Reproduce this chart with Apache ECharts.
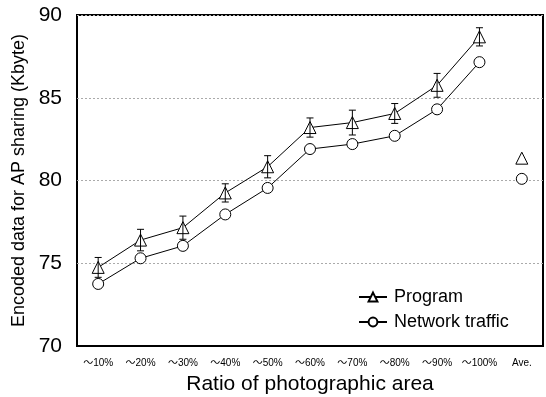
<!DOCTYPE html>
<html>
<head>
<meta charset="utf-8">
<script src="https://cdn.jsdelivr.net/npm/echarts@6/dist/echarts.min.js"></script>
<style>html,body{margin:0;padding:0;background:#fff}#c{width:546px;height:397px}</style>
</head>
<body>
<div id="c"></div>
<script>
var categories = ['～10%','～20%','～30%','～40%','～50%','～60%','～70%','～80%','～90%','～100%','Ave.'];
var programValues = [74.75, 76.4, 77.15, 79.25, 80.83, 83.2, 83.5, 84.05, 85.75, 88.68];
var programErr = [0.6, 0.65, 0.7, 0.55, 0.67, 0.58, 0.75, 0.6, 0.72, 0.55];
var networkValues = [73.75, 75.3, 76.05, 77.95, 79.55, 81.9, 82.2, 82.7, 84.3, 87.15];
var programAve = 81.35;
var networkAve = 80.1;
var yTicks = [70, 75, 80, 85, 90];

var FONT = '"Liberation Sans", Arial, "Noto Sans CJK JP", sans-serif';
var chart = echarts.init(document.getElementById('c'), null, {renderer: 'canvas'});

var errData = programValues.map(function (v, i) { return [i, v - programErr[i], v + programErr[i]]; });
var markerStyle = {color: '#fff', borderColor: '#000', borderWidth: 1, opacity: 1};

chart.setOption({
  animation: false,
  grid: {left: 77, right: 3, top: 15, bottom: 51, show: true, borderColor: '#000', borderWidth: 2,
         backgroundColor: 'transparent', containLabel: false, outerBoundsMode: 'none'},
  legend: {
    data: ['Program', 'Network traffic'],
    orient: 'vertical', left: 353, top: 283,
    itemWidth: 28, itemHeight: 11, itemGap: 7,
    textStyle: {fontSize: 18, color: '#000', fontFamily: FONT, padding: [0, 0, 0, 2]},
    selectedMode: false
  },
  xAxis: {
    type: 'category', data: categories,
    name: 'Ratio of photographic area', nameLocation: 'middle', nameGap: 28,
    nameTextStyle: {fontSize: 21, color: '#000', fontFamily: FONT},
    axisLine: {lineStyle: {color: '#000', width: 2}},
    axisTick: {inside: true, length: 6, lineStyle: {color: '#000', width: 2}},
    axisLabel: {interval: 0, fontSize: 10, color: '#000', fontFamily: FONT, margin: 12},
    splitLine: {show: false}
  },
  yAxis: {
    type: 'value', min: yTicks[0], max: yTicks[yTicks.length - 1], interval: 5,
    name: 'Encoded data for AP sharing (Kbyte)', nameLocation: 'middle', nameGap: 47,
    nameTextStyle: {fontSize: 18, color: '#000', fontFamily: FONT},
    axisLine: {lineStyle: {color: '#000', width: 2}},
    axisTick: {inside: true, length: 6, lineStyle: {color: '#000', width: 2}},
    axisLabel: {fontSize: 21, color: '#000', fontFamily: FONT, margin: 15},
    splitLine: {show: true, lineStyle: {color: '#aaa', type: [2, 2], width: 1}}
  },
  series: [
    {
      name: 'Program', type: 'line', data: programValues,
      symbol: 'triangle', symbolSize: 12,
      lineStyle: {color: '#000', width: 1},
      itemStyle: markerStyle,
      z: 3
    },
    {
      name: 'Network traffic', type: 'line', data: networkValues,
      symbol: 'circle', symbolSize: 11,
      lineStyle: {color: '#000', width: 1},
      itemStyle: markerStyle,
      z: 3
    },
    {
      name: 'ProgramAve', type: 'line', data: [[10, programAve]],
      symbol: 'triangle', symbolSize: 12, showSymbol: true,
      lineStyle: {color: '#000', width: 1},
      itemStyle: markerStyle
    },
    {
      name: 'NetworkAve', type: 'line', data: [[10, networkAve]],
      symbol: 'circle', symbolSize: 11, showSymbol: true,
      lineStyle: {color: '#000', width: 1},
      itemStyle: markerStyle
    },
    {
      name: 'err', type: 'custom', data: errData, z: 4,
      renderItem: function (params, api) {
        var x = api.value(0);
        var lo = api.coord([x, api.value(1)]);
        var hi = api.coord([x, api.value(2)]);
        var w = 3.5;
        var st = {stroke: '#000', lineWidth: 1, fill: null};
        return {type: 'group', children: [
          {type: 'line', shape: {x1: lo[0], y1: lo[1], x2: hi[0], y2: hi[1]}, style: st},
          {type: 'line', shape: {x1: lo[0] - w, y1: lo[1], x2: lo[0] + w, y2: lo[1]}, style: st},
          {type: 'line', shape: {x1: hi[0] - w, y1: hi[1], x2: hi[0] + w, y2: hi[1]}, style: st}
        ]};
      }
    }
  ]
});
</script>
</body>
</html>
